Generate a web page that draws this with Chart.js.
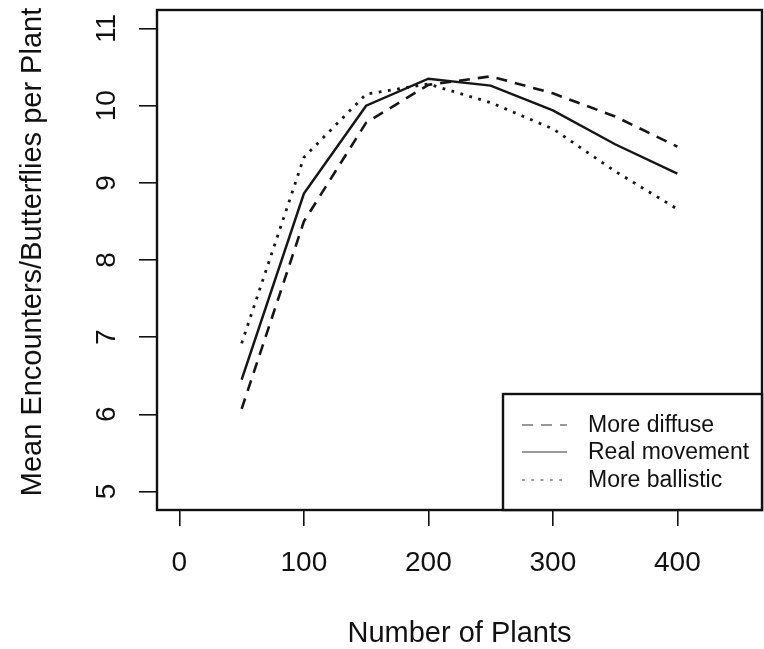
<!DOCTYPE html>
<html>
<head>
<meta charset="utf-8">
<script src="https://cdn.jsdelivr.net/npm/chart.js@4.4.1/dist/chart.umd.min.js"></script>
<style>
  body { margin: 0; background: #fff; }
  canvas { display: block; }
</style>
</head>
<body>
<canvas id="grafik" width="764" height="649"></canvas>
<script>
// podaci
var plants = [50, 100, 150, 200, 250, 300, 350, 400];
var moreDiffuse = [6.07, 8.5, 9.78, 10.27, 10.38, 10.16, 9.86, 9.47];
var realMovement = [6.45, 8.86, 10.0, 10.35, 10.26, 9.94, 9.5, 9.12];
var moreBallistic = [6.92, 9.33, 10.15, 10.28, 10.04, 9.7, 9.15, 8.66];
var xTicks = [0, 100, 200, 300, 400];
var yTicks = [5, 6, 7, 8, 9, 10, 11];
var seriesNames = ["More diffuse", "Real movement", "More ballistic"];

var FONT = "'Liberation Sans', Arial, sans-serif";

function tacke(vrednosti) {
  return plants.map(function (p, i) { return { x: p, y: vrednosti[i] }; });
}

var crtez = {
  id: "crtez",
  afterDraw: function (chart) {
    var ctx = chart.ctx;
    var a = chart.chartArea;
    var yScale = chart.scales.y;
    ctx.save();

    // okvir
    ctx.strokeStyle = "#111";
    ctx.lineWidth = 2.4;
    ctx.setLineDash([]);
    ctx.strokeRect(a.left, a.top, a.right - a.left, a.bottom - a.top);

    // y oznake, rotirane
    ctx.fillStyle = "#111";
    ctx.font = "28px " + FONT;
    ctx.textAlign = "center";
    ctx.textBaseline = "alphabetic";
    yTicks.forEach(function (v) {
      ctx.save();
      ctx.translate(115, yScale.getPixelForValue(v));
      ctx.rotate(-Math.PI / 2);
      ctx.fillText(String(v), 0, 0);
      ctx.restore();
    });

    // naslovi osa
    ctx.font = "29px " + FONT;
    ctx.save();
    ctx.translate(41, (a.top + a.bottom) / 2 - 8);
    ctx.rotate(-Math.PI / 2);
    ctx.fillText("Mean Encounters/Butterflies per Plant", 0, 0);
    ctx.restore();
    ctx.fillText("Number of Plants", (a.left + a.right) / 2, 642);

    // legenda
    var lx = 503, ly = 394;
    ctx.fillStyle = "#fff";
    ctx.fillRect(lx, ly, a.right - lx, a.bottom - ly);
    ctx.strokeStyle = "#111";
    ctx.lineWidth = 2.4;
    ctx.strokeRect(lx, ly, a.right - lx, a.bottom - ly);
    var redovi = [425, 452, 480];
    ctx.font = "23px " + FONT;
    ctx.textAlign = "left";
    ctx.textBaseline = "middle";
    chart.data.datasets.forEach(function (ds, i) {
      ctx.strokeStyle = "#777";
      ctx.lineWidth = 1.6;
      ctx.setLineDash(ds.borderDash || []);
      ctx.beginPath();
      ctx.moveTo(522, redovi[i]);
      ctx.lineTo(567, redovi[i]);
      ctx.stroke();
      ctx.fillStyle = "#111";
      ctx.fillText(ds.label, 588, redovi[i] + 1);
    });
    ctx.restore();
  }
};

var chrt = document.getElementById("grafik").getContext("2d");
var grafik = new Chart(chrt, {
  type: "line",
  data: {
    datasets: [
      {
        label: seriesNames[0],
        data: tacke(moreDiffuse),
        borderColor: "#161616",
        borderWidth: 2.6,
        borderDash: [11, 8],
        pointRadius: 0,
        tension: 0,
        fill: false,
      },
      {
        label: seriesNames[1],
        data: tacke(realMovement),
        borderColor: "#161616",
        borderWidth: 2.5,
        pointRadius: 0,
        tension: 0,
        fill: false,
      },
      {
        label: seriesNames[2],
        data: tacke(moreBallistic),
        borderColor: "#161616",
        borderWidth: 2.8,
        borderDash: [2.8, 6.5],
        pointRadius: 0,
        tension: 0,
        fill: false,
      },
    ],
  },
  options: {
    responsive: false,
    animation: false,
    devicePixelRatio: 1,
    layout: { padding: { top: 10, right: 2, left: 0, bottom: 0 } },
    plugins: { legend: { display: false }, tooltip: { enabled: false } },
    scales: {
      x: {
        type: "linear",
        min: -18,
        max: 468,
        afterBuildTicks: function (s) {
          s.ticks = xTicks.map(function (v) { return { value: v }; });
        },
        afterFit: function (s) { s.height = 139; },
        border: { display: false },
        grid: {
          drawOnChartArea: false,
          drawTicks: true,
          tickLength: 16,
          color: "#111",
          lineWidth: 1.6,
        },
        ticks: {
          color: "#111",
          font: { family: FONT, size: 28 },
          padding: 20,
          maxRotation: 0,
          autoSkip: false,
        },
      },
      y: {
        type: "linear",
        min: 4.76,
        max: 11.24,
        afterBuildTicks: function (s) {
          s.ticks = yTicks.map(function (v) { return { value: v }; });
        },
        afterFit: function (s) { s.width = 157; },
        border: { display: false },
        grid: {
          drawOnChartArea: false,
          drawTicks: true,
          tickLength: 18,
          color: "#111",
          lineWidth: 1.6,
        },
        ticks: { display: false },
      },
    },
  },
  plugins: [crtez],
});
</script>
</body>
</html>
